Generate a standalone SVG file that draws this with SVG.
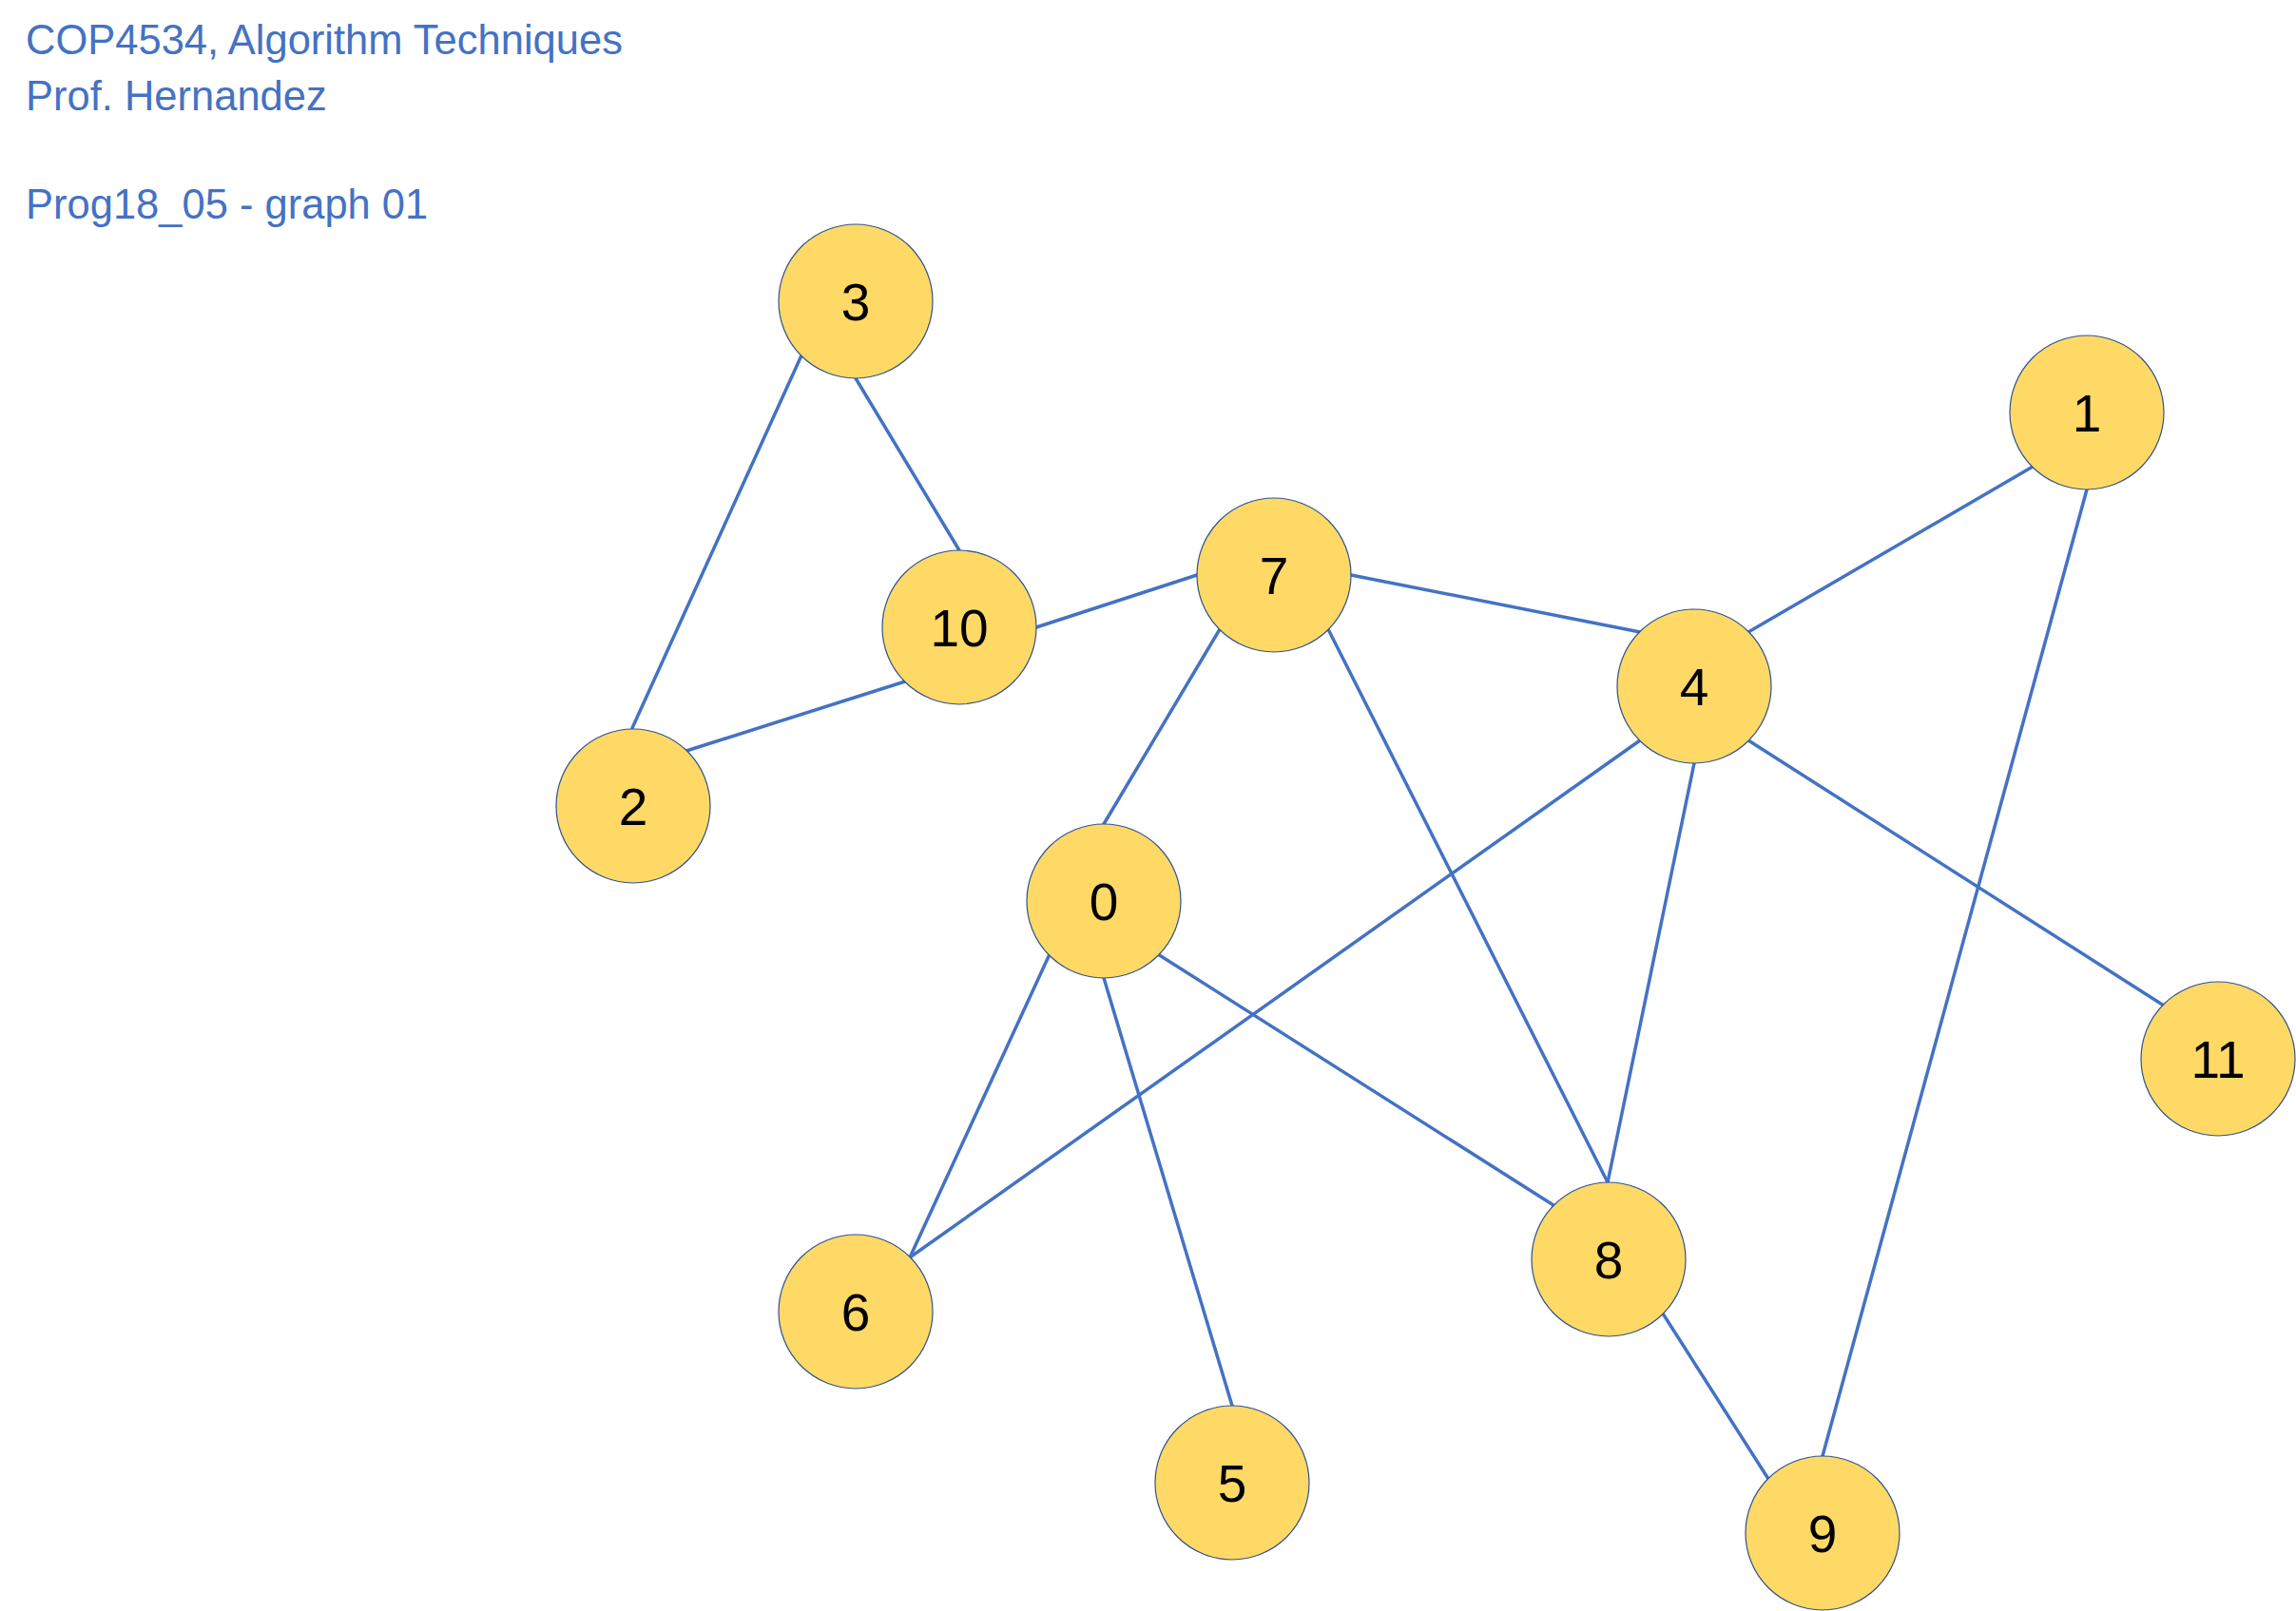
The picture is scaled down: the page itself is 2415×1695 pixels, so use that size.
<svg xmlns="http://www.w3.org/2000/svg" width="2415" height="1695" viewBox="0 0 2415 1695">
<style>
.title{font-family:"Liberation Sans",Arial,sans-serif;font-size:43.5px;fill:#4472C4}
.edge{stroke:#4472C4;stroke-width:3.5;fill:none;stroke-linecap:round}
.node circle{fill:#FFD966;stroke:#2F528F;stroke-width:1.2}
.node text{font-family:"Liberation Sans",Arial,sans-serif;font-size:55px;fill:#000;text-anchor:middle}
</style>
<rect width="2415" height="1695" fill="#fff"/>
<g id="title">
<text class="title" x="27" y="57">COP4534, Algorithm Techniques</text>
<text class="title" x="27" y="116">Prof. Hernandez</text>
<text class="title" x="27" y="230">Prog18_05 - graph 01</text>
</g>
<g id="connectors">
<line class="edge" x1="843" y1="374" x2="665" y2="766"/>
<line class="edge" x1="900" y1="398" x2="1009" y2="579"/>
<line class="edge" x1="1090" y1="660" x2="1259" y2="605"/>
<line class="edge" x1="952" y1="717" x2="722" y2="790"/>
<line class="edge" x1="1421" y1="605" x2="1725" y2="665"/>
<line class="edge" x1="1283" y1="662" x2="1161" y2="867"/>
<line class="edge" x1="1397" y1="662" x2="1691" y2="1244"/>
<line class="edge" x1="1839" y1="665" x2="2138" y2="491"/>
<line class="edge" x1="1725" y1="779" x2="957" y2="1323"/>
<line class="edge" x1="1782" y1="803" x2="1691" y2="1244"/>
<line class="edge" x1="1839" y1="779" x2="2276" y2="1058"/>
<line class="edge" x1="2195" y1="515" x2="1917" y2="1532"/>
<line class="edge" x1="1104" y1="1004" x2="957" y2="1323"/>
<line class="edge" x1="1161" y1="1029" x2="1296" y2="1479"/>
<line class="edge" x1="1218" y1="1004" x2="1634" y2="1268"/>
<line class="edge" x1="1749" y1="1382" x2="1860" y2="1556"/>
</g>
<g id="node3" class="node"><circle cx="900" cy="317" r="81"/><text x="900" y="336.5">3</text></g>
<g id="node1" class="node"><circle cx="2195" cy="434" r="81"/><text x="2195" y="453.5">1</text></g>
<g id="node7" class="node"><circle cx="1340" cy="605" r="81"/><text x="1340" y="624.5">7</text></g>
<g id="node10" class="node"><circle cx="1009" cy="660" r="81"/><text x="1009" y="679.5">10</text></g>
<g id="node4" class="node"><circle cx="1782" cy="722" r="81"/><text x="1782" y="741.5">4</text></g>
<g id="node2" class="node"><circle cx="666" cy="848" r="81"/><text x="666" y="867.5">2</text></g>
<g id="node0" class="node"><circle cx="1161" cy="948" r="81"/><text x="1161" y="967.5">0</text></g>
<g id="node11" class="node"><circle cx="2333" cy="1114" r="81"/><text x="2333" y="1133.5">11</text></g>
<g id="node8" class="node"><circle cx="1692" cy="1325" r="81"/><text x="1692" y="1344.5">8</text></g>
<g id="node6" class="node"><circle cx="900" cy="1380" r="81"/><text x="900" y="1399.5">6</text></g>
<g id="node5" class="node"><circle cx="1296" cy="1560" r="81"/><text x="1296" y="1579.5">5</text></g>
<g id="node9" class="node"><circle cx="1917" cy="1613" r="81"/><text x="1917" y="1632.5">9</text></g>
</svg>
